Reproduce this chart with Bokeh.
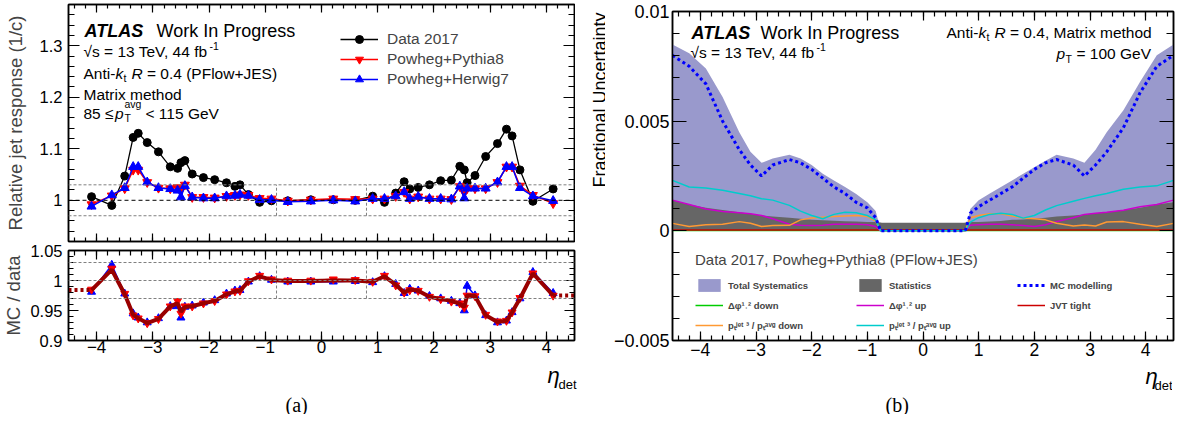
import math
import numpy as np
from bokeh.plotting import figure
from bokeh.models import (Range1d, LinearAxis, FixedTicker, Label, Legend,
                          LegendItem, Span, CustomLabelingPolicy)
from bokeh.layouts import row, column
from bokeh.embed import file_html
from bokeh.resources import INLINE

SANS = "Liberation Sans"
SERIF = "Liberation Serif"

# ---------------- data ----------------
eta_bins = [-4.09, -3.73, -3.50, -3.35, -3.26, -3.10, -2.90, -2.69, -2.56, -2.50, -2.43,
            -2.30, -2.10, -1.90, -1.69, -1.54, -1.45, -1.30, -1.10, -0.89, -0.60, -0.19,
            0.21, 0.60, 0.91, 1.12, 1.32, 1.47, 1.57, 1.72, 1.92, 2.12, 2.31,
            2.46, 2.54, 2.59, 2.73, 2.92, 3.13, 3.29, 3.39, 3.53, 3.76, 4.12]

data_resp = [1.007, 0.990, 1.047, 1.122, 1.130, 1.112, 1.094, 1.065, 1.062, 1.073, 1.077,
             1.051, 1.044, 1.040, 1.034, 1.027, 1.030, 1.011, 0.996, 0.999, 0.999, 1.001,
             1.001, 1.000, 1.008, 0.996, 1.014, 1.036, 1.022, 1.025, 1.030, 1.038, 1.039,
             1.066, 1.059, 1.034, 1.048, 1.085, 1.110, 1.138, 1.125, 1.059, 0.998, 1.022]

py8_resp = [0.992, 1.009, 1.023, 1.059, 1.059, 1.035, 1.024, 1.023, 1.025, 1.020, 1.030,
            1.006, 1.006, 1.005, 1.008, 1.010, 1.011, 1.010, 1.004, 1.003, 0.999, 1.001,
            1.003, 1.002, 1.003, 1.003, 1.008, 1.016, 1.003, 1.007, 1.003, 1.003, 1.002,
            1.027, 1.015, 1.023, 1.023, 1.023, 1.035, 1.065, 1.065, 1.028, 1.010, 0.994]

hw7_resp = [0.988, 1.010, 1.024, 1.065, 1.065, 1.035, 1.024, 1.022, 1.019, 1.006, 1.028,
            1.006, 1.004, 1.004, 1.008, 1.009, 1.011, 1.009, 1.001, 1.001, 0.997, 0.998,
            1.000, 0.998, 1.003, 1.003, 1.008, 1.016, 1.003, 1.007, 1.003, 1.003, 1.002,
            1.027, 1.004, 1.023, 1.023, 1.023, 1.035, 1.065, 1.065, 1.024, 1.008, 0.999]

hw7_ratio = [0.981, 1.026, 0.978, 0.945, 0.938, 0.930, 0.937, 0.957, 0.957, 0.938, 0.956,
             0.958, 0.963, 0.967, 0.978, 0.983, 0.984, 0.998, 1.007, 1.001, 0.998, 0.998,
             0.998, 0.999, 0.997, 1.007, 0.994, 0.979, 0.986, 0.983, 0.974, 0.970, 0.966,
             0.962, 0.950, 0.991, 0.975, 0.942, 0.930, 0.933, 0.947, 0.970, 1.014, 0.979]

py8_ratio = [0.985, 1.020, 0.978, 0.942, 0.937, 0.929, 0.936, 0.957, 0.966, 0.945, 0.957,
             0.957, 0.962, 0.966, 0.977, 0.982, 0.983, 0.999, 1.008, 1.002, 1.000, 1.000,
             1.002, 1.001, 0.998, 1.008, 0.992, 0.980, 0.984, 0.983, 0.973, 0.969, 0.965,
             0.962, 0.955, 0.975, 0.974, 0.943, 0.932, 0.933, 0.947, 0.971, 1.012, 0.975]

calib_ratio = [0.984, 1.018, 0.977, 0.943, 0.937, 0.929, 0.936, 0.957, 0.962, 0.948, 0.956,
               0.957, 0.962, 0.966, 0.977, 0.982, 0.983, 0.998, 1.007, 1.001, 0.999, 0.999,
               1.000, 1.000, 0.998, 1.007, 0.993, 0.980, 0.985, 0.983, 0.973, 0.969, 0.966,
               0.961, 0.956, 0.975, 0.974, 0.942, 0.931, 0.933, 0.947, 0.970, 1.012, 0.975]

calib_ext_lo_eta = [-4.5, -4.09]
calib_ext_lo = [0.984, 0.984]
calib_ext_hi_eta = [4.12, 4.5]
calib_ext_hi = [0.975, 0.975]

# uncertainty panel (b)
u_eta = [-4.5, -4.2, -3.9, -3.6, -3.3, -3.1, -2.9, -2.7, -2.4, -2.2, -2.0, -1.8, -1.6,
         -1.4, -1.2, -1.0, -0.85, -0.76, -0.74, 0.74, 0.76, 0.85, 1.0, 1.2, 1.4, 1.6,
         1.8, 2.0, 2.2, 2.4, 2.7, 2.9, 3.1, 3.3, 3.6, 3.9, 4.2, 4.5]

u_total = [0.0085, 0.0081, 0.0074, 0.0061, 0.0045, 0.0036, 0.0031, 0.0033, 0.00347, 0.0033,
           0.0030, 0.0026, 0.0023, 0.0020, 0.00168, 0.0013, 0.0009, 0.0, 0.0, 0.0, 0.0,
           0.0010, 0.0014, 0.0017, 0.0020, 0.0023, 0.0026, 0.0029, 0.0032, 0.00347, 0.0033,
           0.0031, 0.0037, 0.0045, 0.0055, 0.0068, 0.0080, 0.0085]

u_stat = [0.0014, 0.0012, 0.00105, 0.00095, 0.00085, 0.00078, 0.0007, 0.00065, 0.0006,
          0.00055, 0.0005, 0.00048, 0.00046, 0.00044, 0.00042, 0.0004, 0.0004, 0.00038,
          0.00037, 0.00037, 0.00038, 0.0004, 0.0004, 0.00042, 0.00045, 0.0005, 0.00052,
          0.00055, 0.0006, 0.00065, 0.0007, 0.00075, 0.0008, 0.00085, 0.00095, 0.00105,
          0.0012, 0.0013]

u_mc = [0.0080, 0.0075, 0.0067, 0.0050, 0.0037, 0.0030, 0.0025, 0.0030, 0.00325, 0.0031,
        0.0028, 0.0024, 0.0020, 0.0017, 0.0013, 0.00105, 0.0006, 0.0, 0.0, 0.0, 0.0,
        0.0008, 0.0011, 0.0014, 0.0017, 0.0020, 0.0024, 0.0028, 0.0031, 0.00325, 0.0030,
        0.0025, 0.0030, 0.0036, 0.0047, 0.0063, 0.0075, 0.0080]

u_pt_up = [0.0023, 0.0020, 0.00195, 0.00185, 0.0017, 0.0016, 0.00146, 0.0014, 0.00116,
           0.0009, 0.0007, 0.00055, 0.00075, 0.00085, 0.00082, 0.0007, 0.0005, 0.0, 0.0,
           0.0, 0.0, 0.0004, 0.0006, 0.00075, 0.0008, 0.00075, 0.00058, 0.0007, 0.00095,
           0.00115, 0.00135, 0.00148, 0.0016, 0.0017, 0.0019, 0.0020, 0.00205, 0.0023]

u_pt_down = [0.00034, 0.0002, 0.00028, 0.0003, 0.00042, 0.00035, 0.0002, 0.00024, 0.00025,
             0.0005, 0.00058, 0.00062, 0.00065, 0.00068, 0.0007, 0.00065, 0.00045, 0.0,
             0.0, 0.0, 0.0, 0.0006, 0.0007, 0.00078, 0.00078, 0.00068, 0.00058, 0.00055,
             0.0005, 0.00035, 0.00022, 0.00027, 0.00022, 0.0004, 0.00042, 0.0003, 0.0002,
             0.00034]

u_dphi_up = [0.0014, 0.0012, 0.0010, 0.00088, 0.00082, 0.00078, 0.0007, 0.00055, 0.0003,
             0.00025, 0.00024, 0.00026, 0.0003, 0.0003, 0.0003, 0.00028, 0.0002, 0.0, 0.0,
             0.0, 0.0, 0.00025, 0.00028, 0.0003, 0.0003, 0.00028, 0.00024, 0.0002, 0.00028,
             0.00042, 0.0006, 0.00075, 0.0008, 0.00085, 0.00094, 0.0011, 0.0012, 0.0014]

dphi_down_eta = [-4.5, 4.5]
u_dphi_down = [0.00001, 0.00001]
jvt_eta = [-4.5, 4.5]
u_jvt = [0.00004, 0.00004]

# ticks / labels
x_ticks = [-4, -3, -2, -1, 0, 1, 2, 3, 4]
x_tick_labels = ["\u22124", "\u22123", "\u22122", "\u22121", "0", "1", "2", "3", "4"]
resp_ticks = [1, 1.1, 1.2, 1.3]
resp_tick_labels = ["1", "1.1", "1.2", "1.3"]
ratio_ticks = [0.9, 0.95, 1, 1.05]
ratio_tick_labels = ["0.9", "0.95", "1", "1.05"]
unc_ticks = [-0.005, 0, 0.005, 0.01]
unc_tick_labels = ["\u22120.005", "0", "0.005", "0.01"]
band = [0.97, 1.0, 1.03]
central_edges = [-0.8, 0.8]

x_minor = [round(v, 2) for v in np.arange(-4.4, 4.41, 0.2)]
resp_minor = [round(v, 3) for v in np.arange(0.92, 1.381, 0.02)]
ratio_minor = [round(v, 3) for v in np.arange(0.90, 1.051, 0.01)]
unc_minor = [round(v, 4) for v in np.arange(-0.005, 0.0101, 0.001)]

# ---------------- geometry (page pixels) ----------------
FR1 = dict(left=73, top=12, w=506, h=237, x0=-4.5, x1=4.5, y0=0.92, y1=1.38)
FR2 = dict(left=73, top=258, w=506, h=90, x0=-4.5, x1=4.5, y0=0.9, y1=1.05)
FR3 = dict(left=677, top=19, w=501, h=329, x0=-4.5, x1=4.5, y0=-0.005, y1=0.01)


def to_data(fr, xpx, ypx):
    x = fr["x0"] + (xpx - fr["left"]) / fr["w"] * (fr["x1"] - fr["x0"])
    y = fr["y1"] - (ypx - fr["top"]) / fr["h"] * (fr["y1"] - fr["y0"])
    return x, y


def text(p, fr, xpx, ypx, s, size, style="normal", align="left", font=SANS, angle=0.0):
    x, y = to_data(fr, xpx, ypx) if fr is not None else (xpx, ypx)
    p.add_layout(Label(x=x, y=y, text=s, text_font=font, text_font_size=f"{size}px",
                       text_font_style=style, text_align=align, text_baseline="alphabetic",
                       text_color="black", angle=angle))


def make_fig(fr, bl, br, bt, bb):
    p = figure(frame_width=fr["w"], frame_height=fr["h"],
               x_range=Range1d(fr["x0"], fr["x1"]), y_range=Range1d(fr["y0"], fr["y1"]),
               min_border_left=bl, min_border_right=br, min_border_top=bt, min_border_bottom=bb,
               output_backend="svg", toolbar_location=None, tools="")
    p.xgrid.visible = False
    p.ygrid.visible = False
    p.outline_line_color = "black"
    p.outline_line_width = 1.5
    p.background_fill_color = "white"
    p.border_fill_color = "white"
    return p


def text_strip(x0, x1, y0, y1, bl=0, br=0, bt=0, bb=0):
    """A figure without axes whose frame covers page pixels x0..x1, y0..y1 (y downward)."""
    s = figure(frame_width=x1 - x0, frame_height=y1 - y0,
               x_range=Range1d(x0, x1), y_range=Range1d(y1, y0),
               x_axis_type=None, y_axis_type=None, min_border=0,
               min_border_left=bl, min_border_right=br, min_border_top=bt, min_border_bottom=bb,
               output_backend="svg", toolbar_location=None, tools="")
    s.outline_line_color = None
    s.background_fill_color = "white"
    s.border_fill_color = "white"
    return s


def style_axis(ax, ticks, labels, minor, tin, min_in, size, standoff, show=True):
    ax.ticker = FixedTicker(ticks=ticks, minor_ticks=minor)
    ax.major_tick_in = tin
    ax.major_tick_out = 0
    ax.minor_tick_in = min_in
    ax.minor_tick_out = 0
    ax.major_tick_line_width = 1.2
    ax.minor_tick_line_width = 1.2
    ax.major_tick_line_color = "black"
    ax.minor_tick_line_color = "black"
    ax.axis_line_width = 1.5
    ax.axis_line_color = "black"
    ax.major_label_standoff = standoff
    if show:
        ax.major_label_overrides = dict(zip(ticks, labels))
        ax.major_label_text_font = SANS
        ax.major_label_text_font_size = f"{size}px"
        ax.major_label_text_color = "black"
    else:
        ax.major_label_policy = CustomLabelingPolicy(code="return []")
        ax.major_label_text_font_size = "0px"


def mirror(p, xt, xm, xin, xmin, yt, ym, yin, ymin):
    top = LinearAxis()
    style_axis(top, xt, None, xm, xin, xmin, 0, 0, show=False)
    p.add_layout(top, "above")
    right = LinearAxis()
    style_axis(right, yt, None, ym, yin, ymin, 0, 0, show=False)
    p.add_layout(right, "right")


GREY = "#808080"

# ---------------- (a) upper panel ----------------
p1 = make_fig(FR1, 65, 2, 4, 2)
style_axis(p1.xaxis[0], x_ticks, x_tick_labels, x_minor, 8, 4, 0, 0, show=False)
style_axis(p1.yaxis[0], resp_ticks, resp_tick_labels, resp_minor, 11, 6, 16.5, 6)
mirror(p1, x_ticks, x_minor, 8, 4, resp_ticks, resp_minor, 11, 6)
p1.yaxis[0].axis_label = "Relative jet response (1/c)"
p1.yaxis[0].axis_label_text_font = SANS
p1.yaxis[0].axis_label_text_font_size = "18.5px"
p1.yaxis[0].axis_label_text_font_style = "normal"
p1.yaxis[0].axis_label_standoff = 11

for lev in (band[0], band[2]):
    p1.add_layout(Span(location=lev, dimension="width", line_color=GREY,
                       line_dash="3 2", line_width=1))
p1.add_layout(Span(location=band[1], dimension="width", line_color="black",
                   line_dash="4 3", line_width=1))
p1.segment(x0=central_edges, x1=central_edges, y0=[band[0]] * 2, y1=[band[2]] * 2,
           line_color=GREY, line_dash="3 2", line_width=1)

l_d = p1.line(eta_bins, data_resp, line_color="black", line_width=1.3)
m_d = p1.scatter(eta_bins, data_resp, marker="circle", size=8, fill_color="black",
                 line_color="black")
l_p = p1.line(eta_bins, py8_resp, line_color="#ff0000", line_width=1.5)
m_p = p1.scatter(eta_bins, py8_resp, marker="inverted_triangle", size=9,
                 fill_color="#ff0000", line_color="#ff0000")
l_h = p1.line(eta_bins, hw7_resp, line_color="#0000ff", line_width=1.5)
m_h = p1.scatter(eta_bins, hw7_resp, marker="triangle", size=9, fill_color="#0000ff",
                 line_color="#0000ff")

leg1 = Legend(items=[LegendItem(label="Data 2017", renderers=[l_d, m_d]),
                     LegendItem(label="Powheg+Pythia8", renderers=[l_p, m_p]),
                     LegendItem(label="Powheg+Herwig7", renderers=[l_h, m_h])],
              location=(269, 149), padding=3, margin=0, spacing=0,
              glyph_width=38, glyph_height=20, label_height=20, label_standoff=9,
              label_text_font=SANS, label_text_font_size="15.5px",
              background_fill_alpha=0, border_line_alpha=0)
p1.add_layout(leg1)

text(p1, FR1, 89, 38, "ATLAS", 18, "bold italic")
text(p1, FR1, 161, 38, "Work In Progress", 18)
text(p1, FR1, 88, 59, "\u221as = 13 TeV, 44 fb", 15.5)
text(p1, FR1, 214, 53, "-1", 10.5)
text(p1, FR1, 88, 81, "Anti-", 15.5)
text(p1, FR1, 120, 81, "k", 15.5, "italic")
text(p1, FR1, 128, 85, "t", 10.5)
text(p1, FR1, 136, 81, "R", 15.5, "italic")
text(p1, FR1, 151.5, 81, "= 0.4 (PFlow+JES)", 15.5)
text(p1, FR1, 88, 101.5, "Matrix method", 15.5)
text(p1, FR1, 88, 120.5, "85 \u2264", 15.5)
text(p1, FR1, 119.5, 120.5, "p", 15.5, "italic")
text(p1, FR1, 129, 125, "T", 10.5)
text(p1, FR1, 129, 111, "avg", 10.5)
text(p1, FR1, 150, 120.5, "< 115 GeV", 15.5)

# ---------------- (a) ratio panel ----------------
p2 = make_fig(FR2, 65, 2, 7, 22)
style_axis(p2.xaxis[0], x_ticks, x_tick_labels, x_minor, 9, 5, 17, 0)
style_axis(p2.yaxis[0], ratio_ticks, ratio_tick_labels, ratio_minor, 10, 5, 16.5, 6)
mirror(p2, x_ticks, x_minor, 9, 5, ratio_ticks, ratio_minor, 10, 5)
p2.yaxis[0].axis_label = "MC / data"
p2.yaxis[0].axis_label_text_font = SANS
p2.yaxis[0].axis_label_text_font_size = "18.5px"
p2.yaxis[0].axis_label_text_font_style = "normal"
p2.yaxis[0].axis_label_standoff = 3

for lev in band:
    p2.add_layout(Span(location=lev, dimension="width", line_color=GREY,
                       line_dash="3 2", line_width=1))
p2.segment(x0=central_edges, x1=central_edges, y0=[band[0]] * 2, y1=[band[2]] * 2,
           line_color=GREY, line_dash="3 2", line_width=1)

p2.line(eta_bins, hw7_ratio, line_color="#0000ff", line_width=1.5)
p2.scatter(eta_bins, hw7_ratio, marker="triangle", size=8, fill_color="#0000ff",
           line_color="#0000ff")
p2.line(eta_bins, py8_ratio, line_color="#ff0000", line_width=1.5)
p2.scatter(eta_bins, py8_ratio, marker="inverted_triangle", size=8, fill_color="#ff0000",
           line_color="#ff0000")
p2.line(eta_bins, calib_ratio, line_color="#990000", line_width=4)
p2.line(calib_ext_lo_eta, calib_ext_lo, line_color="#990000", line_width=4, line_dash="3 3")
p2.line(calib_ext_hi_eta, calib_ext_hi, line_color="#990000", line_width=4, line_dash="3 3")

# ---------------- (b) uncertainty panel ----------------
p3 = make_fig(FR3, 67, 2, 11, 22)
style_axis(p3.xaxis[0], x_ticks, x_tick_labels, x_minor, 9, 5, 17.5, 2)
style_axis(p3.yaxis[0], unc_ticks, unc_tick_labels, unc_minor, 14, 7, 18, 3)
mirror(p3, x_ticks, x_minor, 9, 5, unc_ticks, unc_minor, 14, 7)

r_tot = p3.varea(x=u_eta, y1=[0.0] * len(u_eta), y2=u_total, fill_color="#9999cc")
r_stat = p3.varea(x=u_eta, y1=[0.0] * len(u_eta), y2=u_stat, fill_color="#666666")
r_dd = p3.line(dphi_down_eta, u_dphi_down, line_color="#00cc00", line_width=1.5)
r_jvt = p3.line(jvt_eta, u_jvt, line_color="#cc0000", line_width=1.5)
r_du = p3.line(u_eta, u_dphi_up, line_color="#cc00cc", line_width=1.5)
r_pd = p3.line(u_eta, u_pt_down, line_color="#ff9933", line_width=1.5)
r_pu = p3.line(u_eta, u_pt_up, line_color="#00cccc", line_width=1.5)
r_mc = p3.line(u_eta, u_mc, line_color="#0000ff", line_width=3, line_dash="3 3")

leg3 = Legend(items=[LegendItem(label="Total Systematics", renderers=[r_tot]),
                     LegendItem(label="Statistics", renderers=[r_stat]),
                     LegendItem(label="MC modelling", renderers=[r_mc]),
                     LegendItem(label="\u0394\u03c6\u00b9\u02d2\u00b2 down", renderers=[r_dd]),
                     LegendItem(label="\u0394\u03c6\u00b9\u02d2\u00b2 up", renderers=[r_du]),
                     LegendItem(label="JVT tight", renderers=[r_jvt]),
                     LegendItem(label="p\u209c\u02b2\u1d49\u1d57 \u00b3 / p\u209c\u1d43\u1d5b\u1d4d down",
                                renderers=[r_pd]),
                     LegendItem(label="p\u209c\u02b2\u1d49\u1d57 \u00b3 / p\u209c\u1d43\u1d5b\u1d4d up",
                                renderers=[r_pu])],
              location=(19, 3), orientation="horizontal", ncols=3,
              title="Data 2017, Powheg+Pythia8 (PFlow+JES)",
              title_text_font=SANS, title_text_font_size="15px",
              title_text_font_style="normal", title_standoff=9,
              padding=4, margin=0, spacing=4,
              glyph_width=28, glyph_height=16, label_height=16, label_width=124,
              label_standoff=5, label_text_font=SANS, label_text_font_size="9.5px",
              label_text_font_style="bold",
              background_fill_alpha=0, border_line_alpha=0)
p3.add_layout(leg3)

text(p3, FR3, 696, 40, "ATLAS", 18, "bold italic")
text(p3, FR3, 765, 40, "Work In Progress", 18)
text(p3, FR3, 695, 60, "\u221as = 13 TeV, 44 fb", 15.5)
text(p3, FR3, 821, 54, "-1", 10.5)
text(p3, FR3, 951, 40, "Anti-", 15.5)
text(p3, FR3, 983, 40, "k", 15.5, "italic")
text(p3, FR3, 991, 44, "t", 10.5)
text(p3, FR3, 999, 40, "R", 15.5, "italic")
text(p3, FR3, 1014.5, 40, "= 0.4, Matrix method", 15.5)
text(p3, FR3, 1061, 61, "p", 15.5, "italic")
text(p3, FR3, 1070, 66, "T", 10.5)
text(p3, FR3, 1081, 61, "= 100 GeV", 15.5)

# rotated y title of (b): a narrow axis-less figure whose frame matches p3's vertical extent
sy = text_strip(581, 610, 19, 348, bt=11, bb=22)
text(sy, None, 604, 20, "Fractional Uncertainty", 18, align="right", angle=math.pi / 2)

# bottom strip with eta_det labels and sub-figure captions (page coordinates)
bottom = text_strip(8, 1180, 370, 422)
text(bottom, None, 555, 383, "\u03b7", 22, "italic")
text(bottom, None, 566, 392, "det", 13)
text(bottom, None, 293, 412, "(a)", 20, font=SERIF)
text(bottom, None, 1153, 384, "\u03b7", 22, "italic")
text(bottom, None, 1162, 393, "det", 13)
text(bottom, None, 893, 412, "(b)", 20, font=SERIF)

top_row = row(column(p1, p2, spacing=0), row(sy, p3, spacing=0), spacing=0)
layout = column(top_row, bottom, spacing=0)
open("out.html", "w").write(file_html(layout, INLINE))
